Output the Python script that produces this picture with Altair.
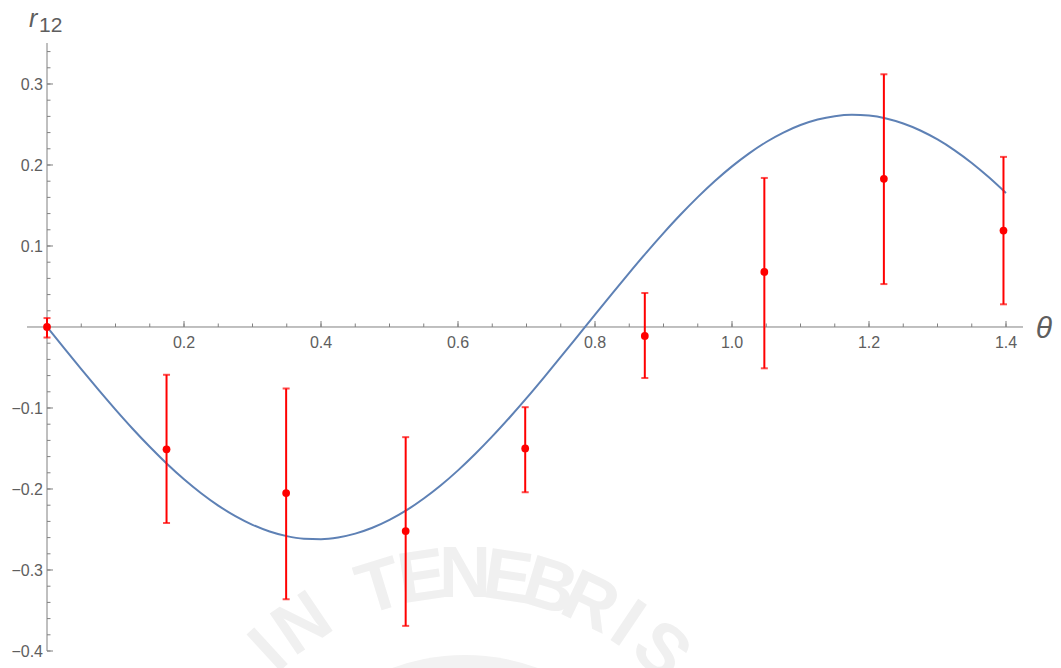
import math
import altair as alt
import pandas as pd

# ---- data ----
theta_pts = [0.0, 0.1745, 0.3491, 0.5236, 0.6981, 0.8727, 1.0472, 1.2217, 1.3963]
r_pts = [0.0, -0.151, -0.205, -0.252, -0.150, -0.011, 0.068, 0.183, 0.119]
r_lo = [-0.013, -0.242, -0.336, -0.369, -0.204, -0.063, -0.051, 0.053, 0.028]
r_hi = [0.011, -0.059, -0.076, -0.136, -0.099, 0.042, 0.184, 0.312, 0.210]

curve_theta = [i * 0.025 for i in range(57)]
curve_r = [0.0, -0.0262, -0.0521, -0.0774, -0.1020, -0.1256, -0.1479, -0.1688, -0.1880,
           -0.2052, -0.2205, -0.2335, -0.2442, -0.2525, -0.2582, -0.2613, -0.2619, -0.2598,
           -0.2551, -0.2479, -0.2382, -0.2262, -0.2118, -0.1954, -0.1770, -0.1568, -0.1351,
           -0.1120, -0.0878, -0.0627, -0.0370, -0.0109, 0.0153, 0.0413, 0.0669, 0.0919,
           0.1159, 0.1388, 0.1603, 0.1802, 0.1983, 0.2144, 0.2284, 0.2400, 0.2493, 0.2561,
           0.2603, 0.2620, 0.2610, 0.2574, 0.2512, 0.2426, 0.2315, 0.2181, 0.2025, 0.1848,
           0.1654]

x_major = [0.2, 0.4, 0.6, 0.8, 1.0, 1.2, 1.4]
x_major_labels = ["0.2", "0.4", "0.6", "0.8", "1.0", "1.2", "1.4"]
x_minor = [round(i * 0.05, 2) for i in range(1, 29)]
y_major = [-0.4, -0.3, -0.2, -0.1, 0.1, 0.2, 0.3]
y_major_labels = ["\u22120.4", "\u22120.3", "\u22120.2", "\u22120.1", "0.1", "0.2", "0.3"]
y_minor = [round(-0.4 + i * 0.02, 2) for i in range(38)]

watermark_text = "IN TENEBRIS"

X_DOMAIN = [-0.0292, 1.4248]
Y_DOMAIN = [-0.4, 0.3506]
W, H = 996, 608
PAD_L, PAD_T = 27, 43
AXIS_COLOR = "#808080"
TEXT_COLOR = "#5e5e5e"
FONT = "Liberation Sans"

xs = alt.Scale(domain=X_DOMAIN, nice=False, zero=False)
ys = alt.Scale(domain=Y_DOMAIN, nice=False, zero=False)

pts = pd.DataFrame({"t": theta_pts, "r": r_pts, "lo": r_lo, "hi": r_hi})
curve = pd.DataFrame({"t": curve_theta, "r": curve_r})

xmaj = pd.DataFrame({"t": x_major, "lab": x_major_labels,
                     "y0": [0.0] * len(x_major), "y1": [0.0074] * len(x_major)})
xmin_df = pd.DataFrame({"t": x_minor, "y0": [0.0] * len(x_minor), "y1": [0.0043] * len(x_minor)})
ymaj = pd.DataFrame({"r": y_major, "lab": y_major_labels,
                     "x0": [0.0] * len(y_major), "x1": [0.0088] * len(y_major)})
ymin_df = pd.DataFrame({"r": y_minor, "x0": [0.0] * len(y_minor), "x1": [0.0051] * len(y_minor)})

X = lambda f: alt.X(f, type="quantitative", scale=xs, axis=None)
Y = lambda f: alt.Y(f, type="quantitative", scale=ys, axis=None)

# ---- faint seal watermark (decoration) ----
seal_cx, seal_cy, seal_r_text, seal_r_disc = 465 - PAD_L, 865 - PAD_T, 290, 237
step = 8.5
wm_rows = []
for i, ch in enumerate(watermark_text):
    if ch == " ":
        continue
    phi = (i - 5) * step
    wm_rows.append({
        "ch": ch,
        "px": seal_cx + seal_r_text * math.sin(math.radians(phi)),
        "py": seal_cy - seal_r_text * math.cos(math.radians(phi)),
        "ang": phi % 360,
    })
wm = pd.DataFrame(wm_rows)
wm_disc = alt.Chart(pd.DataFrame({"a": [0]})).mark_circle(
    color="#f2f2f2", opacity=1, size=math.pi * seal_r_disc ** 2
).encode(x=alt.value(seal_cx), y=alt.value(seal_cy))
wm_letters = alt.Chart(wm).mark_text(
    font="Liberation Sans", fontWeight="bold",
    fontSize=72, color="#f0f0f0", align="center", baseline="middle"
).encode(
    x=alt.X("px:Q", scale=None, axis=None),
    y=alt.Y("py:Q", scale=None, axis=None),
    angle=alt.Angle("ang:Q", scale=None),
    text="ch:N",
)

# axis lines
x_axis_line = alt.Chart(pd.DataFrame({"a": [X_DOMAIN[0]], "b": [X_DOMAIN[1]], "z": [0.0]})).mark_rule(
    color=AXIS_COLOR, strokeWidth=1).encode(x=X("a"), x2="b", y=Y("z"))
y_axis_line = alt.Chart(pd.DataFrame({"a": [-0.4], "b": [Y_DOMAIN[1]], "z": [0.0]})).mark_rule(
    color=AXIS_COLOR, strokeWidth=1).encode(y=Y("a"), y2="b", x=X("z"))

x_maj_ticks = alt.Chart(xmaj).mark_rule(color=AXIS_COLOR).encode(x=X("t"), y=Y("y0"), y2="y1")
x_min_ticks = alt.Chart(xmin_df).mark_rule(color=AXIS_COLOR).encode(x=X("t"), y=Y("y0"), y2="y1")
y_maj_ticks = alt.Chart(ymaj).mark_rule(color=AXIS_COLOR).encode(y=Y("r"), x=X("x0"), x2="x1")
y_min_ticks = alt.Chart(ymin_df).mark_rule(color=AXIS_COLOR).encode(y=Y("r"), x=X("x0"), x2="x1")

x_labels = alt.Chart(xmaj).mark_text(
    font=FONT, fontSize=16, color=TEXT_COLOR, baseline="alphabetic", align="center", dy=21
).encode(x=X("t"), y=Y("y0"), text="lab")
y_labels = alt.Chart(ymaj).mark_text(
    font=FONT, fontSize=16, color=TEXT_COLOR, baseline="middle", align="right", dx=-4, dy=1
).encode(x=X("x0"), y=Y("r"), text="lab")

curve_line = alt.Chart(curve).mark_line(color="#5E81B5", strokeWidth=2, interpolate="monotone").encode(
    x=X("t"), y=Y("r"))

err = alt.Chart(pts).mark_rule(color="#FF0000", strokeWidth=2).encode(
    x=X("t"), y=Y("lo"), y2="hi")
cap_lo = alt.Chart(pts).mark_tick(color="#FF0000", orient="horizontal", size=7, thickness=2).encode(
    x=X("t"), y=Y("lo"))
cap_hi = alt.Chart(pts).mark_tick(color="#FF0000", orient="horizontal", size=7, thickness=2).encode(
    x=X("t"), y=Y("hi"))
dots = alt.Chart(pts).mark_circle(color="#FF0000", size=60, opacity=1).encode(
    x=X("t"), y=Y("r"))

# axis titles
t_r = alt.Chart(pd.DataFrame({"s": ["r"]})).mark_text(
    font=FONT, fontSize=25, fontStyle="italic", color=TEXT_COLOR, align="left", baseline="alphabetic"
).encode(x=alt.value(2), y=alt.value(-16), text="s")
t_12 = alt.Chart(pd.DataFrame({"s": ["12"]})).mark_text(
    font=FONT, fontSize=21, color=TEXT_COLOR, align="left", baseline="alphabetic"
).encode(x=alt.value(12), y=alt.value(-11), text="s")
t_theta = alt.Chart(pd.DataFrame({"s": ["\u03b8"]})).mark_text(
    font=FONT, fontSize=30, fontStyle="italic", color=TEXT_COLOR, align="center", baseline="alphabetic"
).encode(x=alt.value(1017), y=alt.value(295), text="s")

chart = alt.layer(
    wm_disc, wm_letters,
    x_axis_line, y_axis_line, x_min_ticks, x_maj_ticks, y_min_ticks, y_maj_ticks,
    x_labels, y_labels, curve_line, err, cap_lo, cap_hi, dots, t_r, t_12, t_theta
).properties(
    width=W, height=H,
    autosize=alt.AutoSizeParams(type="none"),
    padding={"left": PAD_L, "top": PAD_T, "right": 38, "bottom": 17},
    background="white",
).configure_view(stroke=None)

chart.save("out.html", embed_options={"renderer": "svg", "actions": False})
